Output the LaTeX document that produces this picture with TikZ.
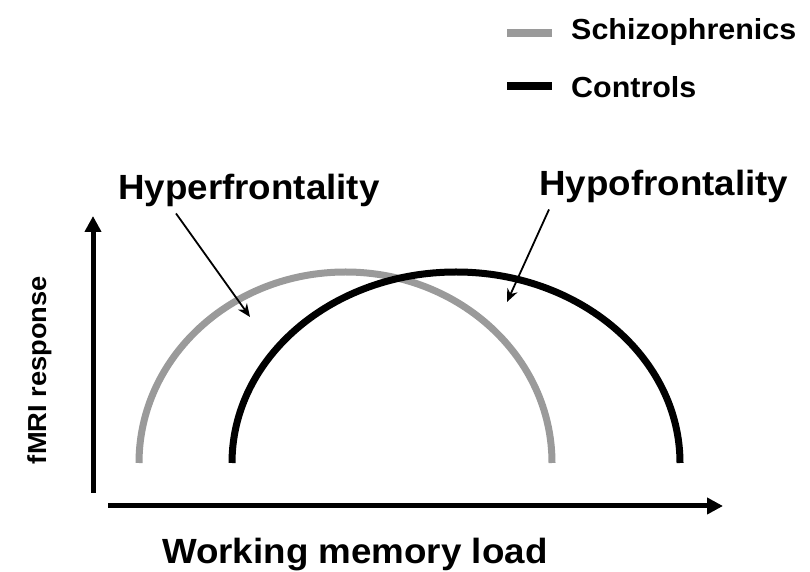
\documentclass[tikz,border=0pt]{standalone}
\usepackage{fontspec}
\setmainfont[FakeStretch=1.05]{Liberation Sans}
\usetikzlibrary{arrows.meta}
\definecolor{Schizo}{HTML}{9A9A9A}
\definecolor{Ctrl}{HTML}{000000}
\tikzset{big/.style={font=\fontsize{35}{38}\selectfont\bfseries,inner sep=0pt},legtext/.style={font=\fontsize{29}{31}\selectfont\bfseries,inner sep=0pt,anchor=base west},axis/.style={line width=5pt,-{Triangle[length=16pt,width=16pt]}},pointer/.style={line width=1.8pt,-{Stealth[length=13pt,width=11pt]}},curve/.style={line width=7pt}}
\begin{document}
\begin{tikzpicture}[x=1pt,y=1pt]
  \useasboundingbox (0,0) rectangle (810,572);
  % legend
  \node[legtext](schizo) at (571,532){Schizophrenics};
  \node[legtext](ctrl) at (571,474){Controls};
  \draw[Schizo,line width=8pt](507,539)--(552,539);
  \draw[Ctrl,line width=8pt](507,486)--(552,486);
  % axes
  \coordinate(ybot) at (93,79);\coordinate(ytop) at (93,356);
  \coordinate(xleft) at (108,66);\coordinate(xright) at (723,66);
  \draw[axis](ybot)--(ytop);\draw[axis](xleft)--(xright);
  \node[big,anchor=base west](xlab) at (162,8){Working memory load};
  \node[font=\fontsize{26}{28}\selectfont\bfseries,inner sep=0pt,rotate=90](ylab) at (40,202){fMRI response};
  % curves
  \draw[curve,Schizo](139,109) arc[start angle=180,end angle=0,x radius=206.5,y radius=191];
  \draw[curve,Ctrl](232,109) arc[start angle=180,end angle=0,x radius=224,y radius=191];
  % labels
  \node[big,anchor=base west](hyper) at (118,372){Hyperfrontality};
  \node[big,anchor=base west](hypo) at (539,376){Hypofrontality};
  \coordinate(hyperTip) at (250,255);\coordinate(hypoTip) at (507,270);
  \draw[pointer](hyper.south -| 176,0)++(0,-6)--(hyperTip);
  \draw[pointer](hypo.south -| 549,0)++(0,-6)--(hypoTip);
\end{tikzpicture}
\end{document}
